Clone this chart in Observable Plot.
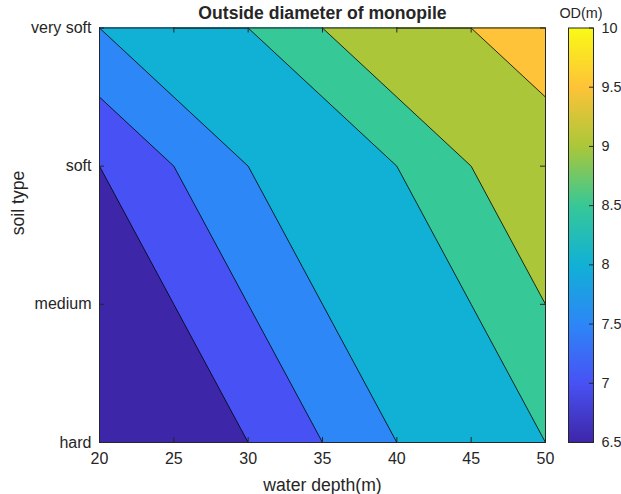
<!DOCTYPE html>
<html>
<head>
<meta charset="utf-8">
<script src="https://cdn.jsdelivr.net/npm/d3@7"></script>
<script src="https://cdn.jsdelivr.net/npm/@observablehq/plot@0.6"></script>
<style>
  html, body { margin: 0; padding: 0; background: #fff; }
  #chart { position: relative; width: 621px; height: 494px; }
  #chart svg { position: absolute; left: 0; top: 0; }
</style>
</head>
<body>
<div id="chart"></div>
<script>
// Water depth grid (m) and soil categories (bottom to top)
const waterDepth = [20, 25, 30, 35, 40, 45, 50];
const soilTypes = ["hard", "medium", "soft", "very soft"];

// Outside diameter of the monopile (m), one row per soil type, columns follow waterDepth
const odHard     = [6.5, 6.5, 7.0, 7.5, 8.0, 8.0, 8.5];
const odMedium   = [6.5, 7.0, 7.5, 8.0, 8.0, 8.5, 9.0];
const odSoft     = [7.0, 7.5, 8.0, 8.0, 8.5, 9.0, 9.0];
const odVerySoft = [8.0, 8.5, 8.5, 9.0, 9.5, 9.5, 10.0];

// Filled contour levels and tick values
const levels = [6.5, 7, 7.5, 8, 8.5, 9, 9.5];
const depthTicks = [20, 25, 30, 35, 40, 45, 50];
const odTicks = [6.5, 7, 7.5, 8, 8.5, 9, 9.5, 10];
const odRange = [6.5, 10];

// parula colour map stops
const parulaStops = ["#3e26a8", "#4852f4", "#2d87f7", "#11b1d6", "#37c897", "#abc739", "#fec338", "#f9fb15"];

const W = 621, H = 494;
const mTop = 27.5, mBottom = 52, mLeft = 99, mRight = 76;
const frameW = W - mLeft - mRight;
const frameH = H - mTop - mBottom;
const ink = "#262626";
const font = "'Liberation Sans', Arial, Helvetica, sans-serif";
const tickLen = 5;

const color = {
  type: "linear",
  domain: odRange,
  interpolate: d3.piecewise(d3.interpolateRgb, parulaStops)
};

// Row-major grid, first row = hard
const grid = [...odHard, ...odMedium, ...odSoft, ...odVerySoft];
const step = waterDepth[1] - waterDepth[0];
const soilIndex = soilTypes.map((_, i) => i);

const main = Plot.plot({
  width: W,
  height: H,
  marginTop: mTop,
  marginBottom: mBottom,
  marginLeft: mLeft,
  marginRight: mRight,
  style: {fontFamily: font, fontSize: "16px", color: ink, background: "transparent", overflow: "visible"},
  x: {domain: [waterDepth[0], waterDepth[waterDepth.length - 1]]},
  y: {domain: [0, soilTypes.length - 1]},
  color,
  marks: [
    Plot.contour(grid, {
      width: waterDepth.length,
      height: soilTypes.length,
      x1: waterDepth[0] - step / 2,
      x2: waterDepth[waterDepth.length - 1] + step / 2,
      y1: -0.5,
      y2: soilTypes.length - 0.5,
      fill: Plot.identity,
      thresholds: levels,
      stroke: "#000",
      strokeWidth: 0.8,
      clip: true
    }),
    Plot.frame({stroke: ink, strokeWidth: 1}),
    // inward ticks on all four sides
    Plot.tickX(depthTicks, {x: (d) => d, insetTop: frameH - tickLen, stroke: ink}),
    Plot.tickX(depthTicks, {x: (d) => d, insetBottom: frameH - tickLen, stroke: ink}),
    Plot.tickY(soilIndex, {y: (d) => d, insetRight: frameW - tickLen, stroke: ink}),
    Plot.tickY(soilIndex, {y: (d) => d, insetLeft: frameW - tickLen, stroke: ink}),
    Plot.axisX(depthTicks, {tickSize: 0, tickPadding: 10, label: null, fontSize: 16}),
    Plot.axisY(soilIndex, {tickSize: 0, tickPadding: 8, label: null, fontSize: 16, tickFormat: (i) => soilTypes[i]}),
    Plot.text(["water depth(m)"], {text: (d) => d, frameAnchor: "bottom", lineAnchor: "middle", dy: 43, fontSize: 17.6}),
    Plot.text(["soil type"], {text: (d) => d, frameAnchor: "left", dx: -81.5, rotate: -90, fontSize: 17.6}),
    Plot.text(["Outside diameter of monopile"], {text: (d) => d, frameAnchor: "top", lineAnchor: "middle", dy: -15, fontSize: 17.6, fontWeight: "bold"})
  ]
});

// Colour bar on the right
const cbLeft = 568, cbRight = 593;
const bar = Plot.plot({
  width: W,
  height: H,
  marginTop: mTop,
  marginBottom: mBottom,
  marginLeft: cbLeft,
  marginRight: W - cbRight,
  style: {fontFamily: font, fontSize: "14.4px", color: ink, background: "transparent", overflow: "visible"},
  x: {domain: [0, 1], axis: null},
  y: {domain: odRange, axis: null},
  color,
  marks: [
    Plot.raster({x1: 0, x2: 1, y1: odRange[0], y2: odRange[1], fill: (x, y) => y, pixelSize: 1}),
    Plot.frame({stroke: ink, strokeWidth: 1}),
    Plot.tickY(odTicks, {y: (d) => d, insetLeft: (cbRight - cbLeft) - 4, stroke: ink}),
    Plot.axisY(odTicks, {anchor: "right", tickSize: 0, tickPadding: 8, label: null, fontSize: 14.4, tickFormat: (d) => String(d)}),
    Plot.text(["OD(m)"], {text: (d) => d, frameAnchor: "top", lineAnchor: "middle", dy: -15, fontSize: 14.4})
  ]
});

const chart = document.getElementById("chart");
chart.appendChild(main);
chart.appendChild(bar);
</script>
</body>
</html>
